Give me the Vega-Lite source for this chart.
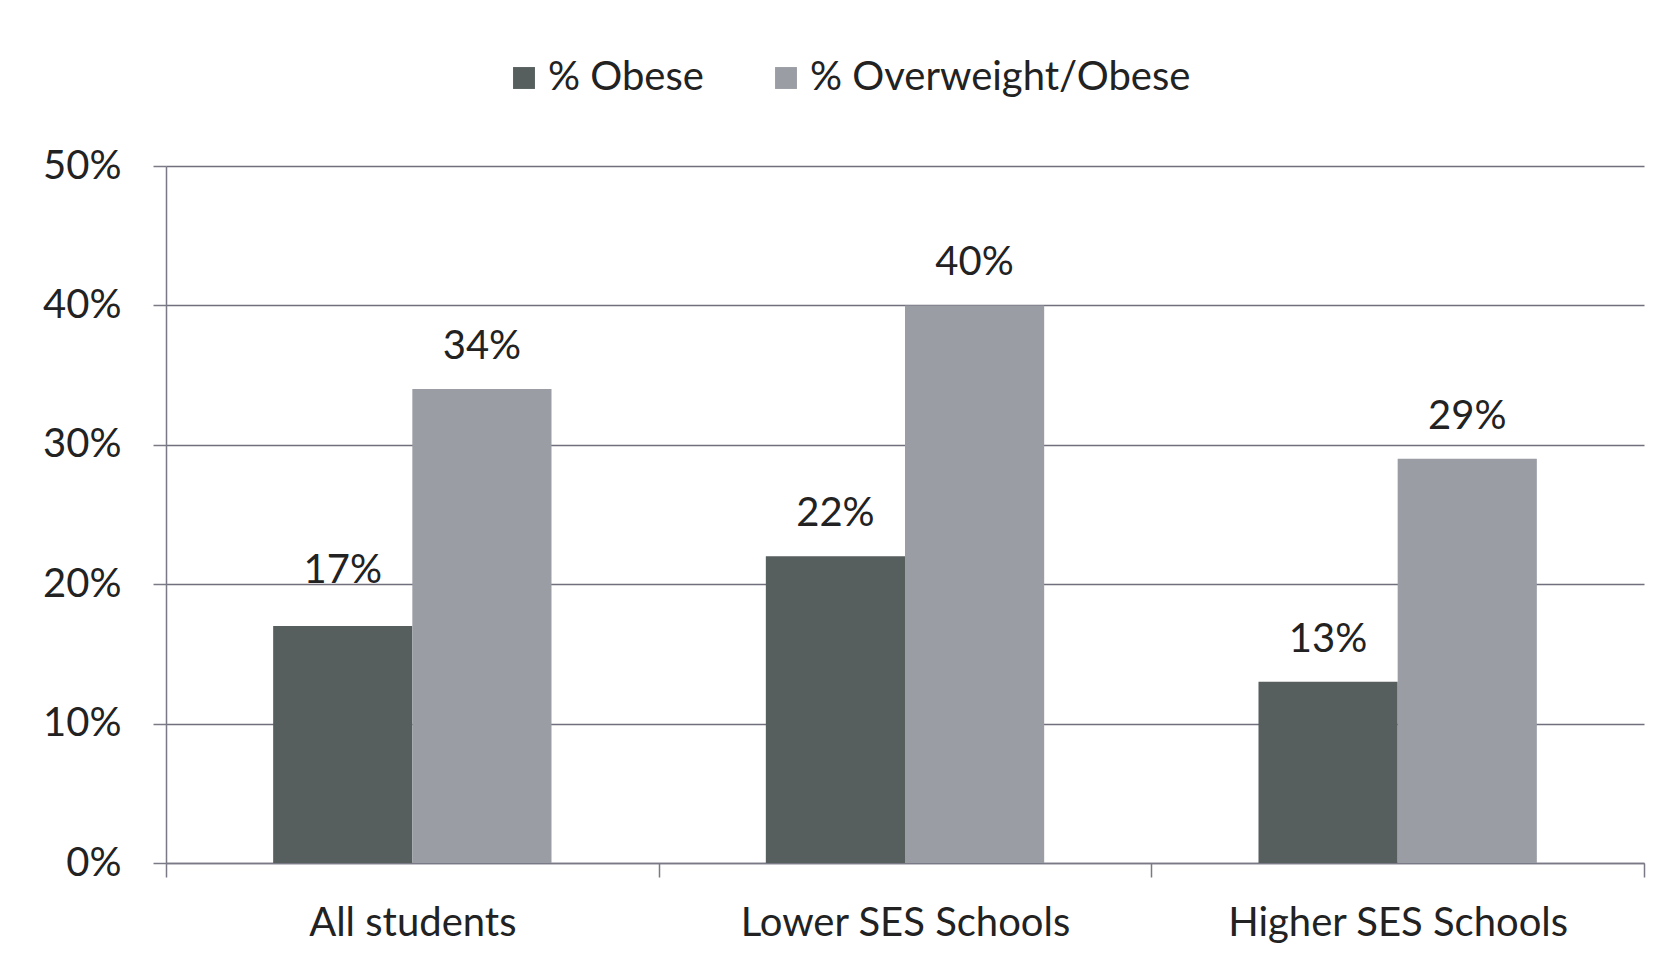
{
  "$schema": "https://vega.github.io/schema/vega-lite/v6.json",
  "width": 1478,
  "height": 697,
  "autosize": {"type": "none"},
  "padding": {"left": 166, "top": 166, "right": 35, "bottom": 108},
  "background": "white",
  "config": {"view": {"stroke": null}, "font": "Lato", "text": {"font": "Lato"}},
  "data": {
    "values": [
      {"group": "All students", "measure": "% Obese", "value": 0.17},
      {"group": "All students", "measure": "% Overweight/Obese", "value": 0.34},
      {"group": "Lower SES Schools", "measure": "% Obese", "value": 0.22},
      {"group": "Lower SES Schools", "measure": "% Overweight/Obese", "value": 0.40},
      {"group": "Higher SES Schools", "measure": "% Obese", "value": 0.13},
      {"group": "Higher SES Schools", "measure": "% Overweight/Obese", "value": 0.29}
    ]
  },
  "encoding": {
    "x": {
      "field": "group",
      "type": "nominal",
      "sort": ["All students", "Lower SES Schools", "Higher SES Schools"],
      "scale": {"paddingInner": 0, "paddingOuter": 0},
      "axis": {
        "title": null,
        "labelAngle": 0,
        "labelFontSize": 40,
        "labelLimit": 0,
        "labelColor": "#222222",
        "labelPadding": 26,
        "tickBand": "extent",
        "tickSize": 14,
        "tickColor": "#7a7a86",
        "tickWidth": 1.5,
        "domainColor": "#7a7a86",
        "domainWidth": 1.5,
        "grid": false
      }
    },
    "xOffset": {
      "field": "measure",
      "type": "nominal",
      "sort": ["% Obese", "% Overweight/Obese"],
      "scale": {"paddingInner": 0, "paddingOuter": 0.77}
    },
    "y": {
      "field": "value",
      "type": "quantitative",
      "scale": {"domain": [0, 0.5], "nice": false},
      "axis": {
        "title": null,
        "values": [0, 0.1, 0.2, 0.3, 0.4, 0.5],
        "format": ".0%",
        "labelFontSize": 40,
        "labelColor": "#222222",
        "labelPadding": 32,
        "tickSize": 13,
        "tickColor": "#7a7a86",
        "tickWidth": 1.5,
        "domainColor": "#7a7a86",
        "domainWidth": 1.5,
        "grid": true,
        "gridColor": "#6f6f7e",
        "gridWidth": 1.5
      }
    }
  },
  "layer": [
    {
      "mark": {"type": "bar"},
      "encoding": {
        "color": {
          "field": "measure",
          "type": "nominal",
          "sort": ["% Obese", "% Overweight/Obese"],
          "scale": {"domain": ["% Obese", "% Overweight/Obese"], "range": ["#565e5e", "#9a9da4"]},
          "legend": {
            "title": null,
            "orient": "none",
            "legendX": 338,
            "legendY": -108,
            "direction": "horizontal",
            "symbolType": "square",
            "symbolSize": 480,
            "symbolStrokeWidth": 0,
            "labelFontSize": 40,
            "labelLimit": 0,
            "labelColor": "#222222",
            "labelOffset": 4,
            "columnPadding": 62,
            "padding": 0
          }
        }
      }
    },
    {
      "transform": [{"filter": "!(datum.group === 'All students' && datum.measure === '% Obese')"}],
      "mark": {"type": "text", "dy": -30, "baseline": "alphabetic", "fontSize": 40, "color": "#222222"},
      "encoding": {
        "text": {"field": "value", "type": "quantitative", "format": ".0%"}
      }
    },
    {
      "transform": [{"filter": "datum.group === 'All students' && datum.measure === '% Obese'"}],
      "mark": {"type": "text", "dy": -43, "baseline": "alphabetic", "fontSize": 40, "color": "#222222"},
      "encoding": {
        "text": {"field": "value", "type": "quantitative", "format": ".0%"}
      }
    }
  ]
}
